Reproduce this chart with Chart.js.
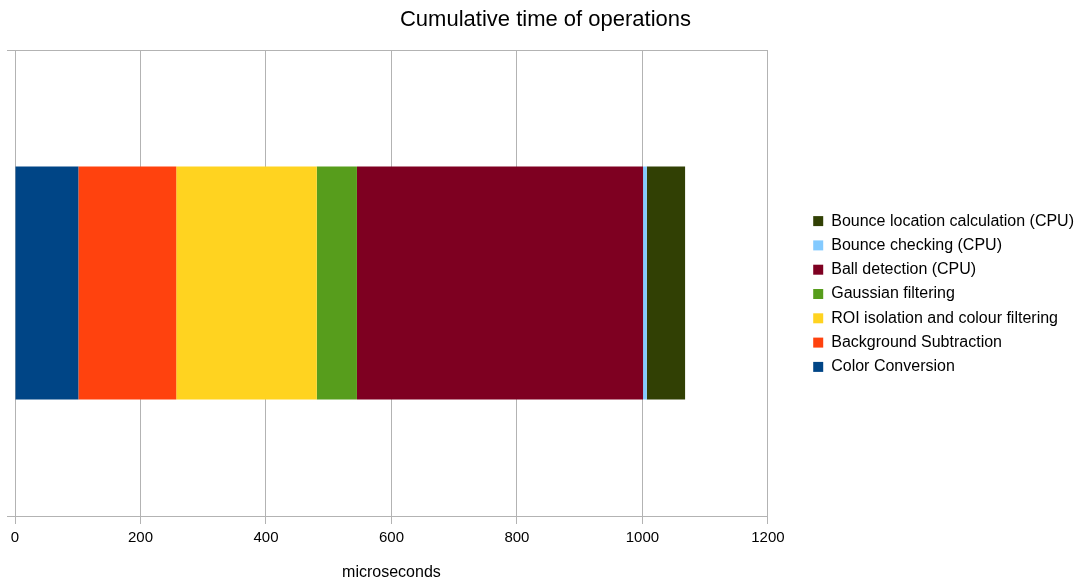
<!DOCTYPE html>
<html>
<head>
<meta charset="utf-8">
<title>Cumulative time of operations</title>
<script src="https://cdn.jsdelivr.net/npm/chart.js@4/dist/chart.umd.min.js"></script>
<style>
  html, body { margin: 0; padding: 0; background: #ffffff; }
  #wrap { width: 1087px; height: 581px; position: relative; }
</style>
</head>
<body>
<div id="wrap"><canvas id="chart"></canvas></div>
<script>
// Stages of the processing pipeline, in the order they run
const stages = [
  'Color Conversion',
  'Background Subtraction',
  'ROI isolation and colour filtering',
  'Gaussian filtering',
  'Ball detection (CPU)',
  'Bounce checking (CPU)',
  'Bounce location calculation (CPU)'
];

// Time spent in each stage, microseconds
const stageTimes = [101, 156, 224, 64, 456, 6, 61];

// Fill colour per stage
const stageColors = ['#004586', '#ff420e', '#ffd320', '#579d1c', '#7e0021', '#83caff', '#314004'];

// Single bar category and x-axis ticks
const barLabels = [''];
const xTicks = [0, 200, 400, 600, 800, 1000, 1200];

const gridGrey = '#b3b3b3';

Chart.defaults.font.family = "'Liberation Sans', Arial, sans-serif";
Chart.defaults.color = '#000000';

const datasets = stages.map((name, i) => ({
  label: name,
  data: [stageTimes[i]],
  backgroundColor: stageColors[i],
  borderWidth: 0,
  barPercentage: 0.5,
  categoryPercentage: 1.0
}));

new Chart(document.getElementById('chart'), {
  type: 'bar',
  data: { labels: barLabels, datasets },
  options: {
    indexAxis: 'y',
    responsive: true,
    maintainAspectRatio: false,
    animation: false,
    layout: { padding: { left: 7, right: 3, top: 7, bottom: 0 } },
    scales: {
      x: {
        type: 'linear',
        stacked: true,
        min: xTicks[0],
        max: xTicks[xTicks.length - 1],
        afterBuildTicks: (scale) => { scale.ticks = xTicks.map(v => ({ value: v })); },
        ticks: {
          font: { size: 15 },
          color: '#000000',
          padding: 5,
          callback: (value) => String(value)
        },
        grid: { color: gridGrey, lineWidth: 1, tickLength: 8 },
        border: { color: gridGrey, width: 1 },
        title: {
          display: true,
          text: 'microseconds',
          font: { size: 16, lineHeight: 1 },
          color: '#000000',
          padding: { top: 13, bottom: 0 }
        }
      },
      y: {
        type: 'category',
        stacked: true,
        ticks: { display: false },
        grid: { offset: true, color: gridGrey, lineWidth: 1, tickLength: 8 },
        border: { color: gridGrey, width: 1 }
      },
      // blank band keeping the legend clear of the plot
      yGap: {
        type: 'category',
        axis: 'y',
        position: 'right',
        ticks: { display: false },
        grid: { display: false, drawTicks: false },
        border: { display: false },
        afterFit: (scale) => { scale.width = 37; }
      }
    },
    plugins: {
      title: {
        display: true,
        text: 'Cumulative time of operations',
        font: { size: 22, weight: 'normal' },
        color: '#000000',
        padding: { top: 0, bottom: 16.6 }
      },
      legend: {
        position: 'right',
        align: 'center',
        reverse: true,
        maxWidth: 320,
        labels: {
          boxWidth: 10,
          boxHeight: 10,
          padding: 8.3,
          font: { size: 16 },
          color: '#000000'
        }
      },
      tooltip: { enabled: false }
    }
  }
});
</script>
</body>
</html>
